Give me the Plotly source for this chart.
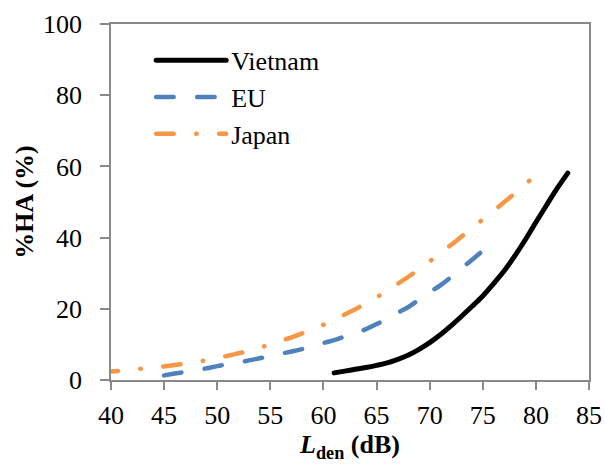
import plotly.graph_objects as go

# ---- data ----
vn_x = [61, 62, 63, 64, 65, 66, 67, 68, 69, 70, 71, 72, 73, 74, 75, 76, 77, 78, 79, 80, 81, 82, 83]
vn_y = [2.0, 2.5, 3.0, 3.5, 4.1, 4.8, 5.8, 7.0, 8.6, 10.5, 12.7, 15.2, 17.9, 20.7, 23.6, 27.0,
        30.6, 34.8, 39.4, 44.3, 49.1, 53.8, 58.1]

eu_x = [45, 46, 47, 48, 49, 50, 51, 52, 53, 54, 55, 56, 57, 58, 59, 60, 61, 62, 63, 64, 65,
        66, 67, 68, 69, 70, 71, 72, 73, 74, 75]
eu_y = [1.3, 1.8, 2.3, 2.8, 3.3, 3.9, 4.4, 4.9, 5.5, 6.1, 6.7, 7.4, 8.0, 8.7, 9.5, 10.4, 11.2,
        12.2, 13.1, 14.3, 15.7, 17.2, 18.9, 20.5, 22.6, 24.7, 26.6, 28.9, 31.4, 33.8, 36.3]

jp_x = [39, 40, 41, 42, 43, 44, 45, 46, 47, 48, 49, 50, 51, 52, 53, 54, 55, 56, 57, 58, 59, 60,
        61, 62, 63, 64, 65, 66, 67, 68, 69, 70, 71, 72, 73, 74, 75, 76, 77, 78, 79, 80]
jp_y = [2.2, 2.4, 2.6, 2.9, 3.2, 3.5, 3.8, 4.2, 4.6, 5.1, 5.6, 6.2, 6.8, 7.5, 8.2, 9.1, 10.0,
        11.0, 12.0, 13.1, 14.3, 15.5, 16.9, 18.4, 19.9, 21.5, 23.2, 25.0, 27.0, 29.0, 31.1,
        33.3, 35.6, 37.9, 40.3, 42.7, 45.1, 47.5, 49.9, 52.4, 55.0, 57.5]

x_ticks = [40, 45, 50, 55, 60, 65, 70, 75, 80, 85]
y_ticks = [0, 20, 40, 60, 80, 100]

FONT = "Times New Roman"
AXIS_COLOR = "#898989"

fig = go.Figure()
fig.add_trace(go.Scatter(x=vn_x, y=vn_y, mode="lines", name="Vietnam",
                         line=dict(color="#000000", width=5, shape="spline")))
fig.add_trace(go.Scatter(x=eu_x, y=eu_y, mode="lines", name="EU",
                         line=dict(color="#4F81BD", width=4.5, shape="spline",
                                   dash="17.5px,23.5px")))
fig.add_trace(go.Scatter(x=jp_x, y=jp_y, mode="lines", name="Japan",
                         line=dict(color="#F79646", width=4.5, shape="spline",
                                   dash="17.5px,22.5px,0.5px,22.5px")))

fig.update_layout(
    width=605, height=464,
    margin=dict(l=111, r=16, t=24, b=84),
    paper_bgcolor="white", plot_bgcolor="white",
    font=dict(family=FONT, size=26, color="black"),
    showlegend=True,
    legend=dict(x=0.084, y=0.964, xanchor="left", yanchor="top",
                bgcolor="rgba(0,0,0,0)", font=dict(size=26, family=FONT, color="black"),
                itemwidth=70, tracegroupgap=0),
    xaxis=dict(range=[40, 85], tickvals=x_ticks, ticktext=[str(v) for v in x_ticks],
               automargin=False, ticklabelstandoff=3,
               showgrid=False, zeroline=False, showline=True, linecolor=AXIS_COLOR,
               linewidth=1.5, mirror=True, ticks="outside", ticklen=8, tickwidth=1.5,
               tickcolor=AXIS_COLOR, tickfont=dict(size=26, family=FONT, color="black"),
               title=dict(text="<b><i>L</i><sub>den</sub> (dB)</b>",
                          font=dict(size=26, family=FONT, color="black"), standoff=6)),
    yaxis=dict(range=[0, 100], tickvals=y_ticks, ticktext=[str(v) for v in y_ticks],
               automargin=False, ticklabelstandoff=13,
               showgrid=False, zeroline=False, showline=True, linecolor=AXIS_COLOR,
               linewidth=1.5, mirror=True, ticks="outside", ticklen=9, tickwidth=1.5,
               tickcolor=AXIS_COLOR, tickfont=dict(size=26, family=FONT, color="black"),
               title=dict(text="<b>%HA (%)</b>",
                          font=dict(size=26, family=FONT, color="black"), standoff=2)),
)

post = """
document.body.style.margin = '0';
document.body.style.padding = '0';
var gd = document.getElementById('{plot_id}');
function caps(){
  gd.querySelectorAll('path.js-line').forEach(function(p){
    p.style.strokeLinecap = 'round';
  });
}
caps();
gd.on('plotly_afterplot', caps);
"""

fig.write_html("out.html", post_script=post, config={"displayModeBar": False})
